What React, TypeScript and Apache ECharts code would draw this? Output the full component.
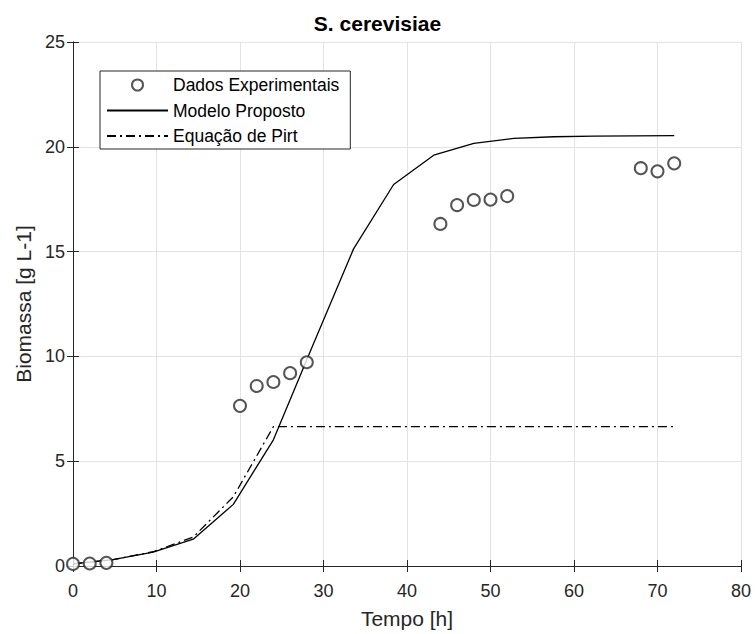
import React, { useEffect, useRef } from "react";
import * as echarts from "echarts";

// Experimental data (Dados Experimentais)
const expTime = [0, 2, 4, 20, 22, 24, 26, 28, 44, 46, 48, 50, 52, 68, 70, 72];
const expBiomass = [0.1, 0.12, 0.15, 7.64, 8.59, 8.78, 9.2, 9.72, 16.32, 17.22, 17.46, 17.48, 17.65, 18.98, 18.83, 19.21];

// Modelo Proposto
const modelTime = [0, 4.8, 9.6, 14.4, 19.2, 24, 28.8, 33.6, 38.4, 43.2, 48, 52.8, 57.6, 62.4, 67.2, 72];
const modelBiomass = [0.1, 0.3, 0.66, 1.28, 2.94, 6.02, 10.6, 15.13, 18.2, 19.6, 20.16, 20.4, 20.48, 20.51, 20.52, 20.53];

// Equação de Pirt
const pirtTime = [0, 4.8, 9.6, 14.4, 19.2, 24, 72];
const pirtBiomass = [0.1, 0.3, 0.68, 1.38, 3.3, 6.65, 6.65];

const xMin = 0;
const xMax = 80;
const xStep = 10;
const yMin = 0;
const yMax = 25;
const yStep = 5;

const seriesNames = ["Dados Experimentais", "Modelo Proposto", "Equação de Pirt"];
const titleText = "S. cerevisiae";
const xLabel = "Tempo [h]";
const yLabel = "Biomassa [g L-1]";

const FONT = "'Liberation Sans', Arial, sans-serif";
const DARK = "#262626";

const zip = (xs: number[], ys: number[]) => xs.map((x, i) => [x, ys[i]]);

export default function App() {
  const ref = useRef<HTMLDivElement>(null);

  useEffect(() => {
    if (!ref.current) return;
    const chart = echarts.init(ref.current, undefined, { renderer: "svg" });

    const boxAxisCommon = {
      axisLine: { show: true, lineStyle: { color: DARK, width: 1 } },
      axisTick: { show: true, inside: true, length: 6, lineStyle: { color: DARK, width: 1 } },
    };

    chart.setOption({
      animation: false,
      backgroundColor: "#ffffff",
      textStyle: { fontFamily: FONT },
      title: {
        text: titleText,
        left: "center",
        top: 13,
        padding: 0,
        textStyle: { fontFamily: FONT, fontSize: 21, fontWeight: "bold", color: "#000" },
      },
      grid: { left: 73, right: 14, top: 42, bottom: 65, containLabel: false },
      legend: {
        orient: "vertical",
        left: 100,
        top: 71,
        padding: [5, 11, 4, 6],
        itemWidth: 61,
        itemHeight: 11,
        itemGap: 7.5,
        backgroundColor: "#ffffff",
        borderColor: DARK,
        borderWidth: 1,
        borderRadius: 0,
        data: [
          { name: seriesNames[0] },
          { name: seriesNames[1], itemStyle: { opacity: 0 } },
          { name: seriesNames[2], itemStyle: { opacity: 0 } },
        ],
        textStyle: { fontFamily: FONT, fontSize: 17.5, color: "#000", padding: [0, 0, 0, 0] },
      },
      xAxis: [
        {
          type: "value",
          min: xMin,
          max: xMax,
          interval: xStep,
          position: "bottom",
          name: xLabel,
          nameLocation: "middle",
          nameGap: 42,
          nameTextStyle: { fontFamily: FONT, fontSize: 21, color: DARK },
          ...boxAxisCommon,
          axisLabel: { fontFamily: FONT, fontSize: 18, color: DARK, margin: 16 },
          splitLine: { show: true, lineStyle: { color: "#e3e3e3", width: 1 } },
        },
        {
          type: "value",
          min: xMin,
          max: xMax,
          interval: xStep,
          position: "top",
          ...boxAxisCommon,
          axisLabel: { show: false },
          splitLine: { show: false },
        },
      ],
      yAxis: [
        {
          type: "value",
          min: yMin,
          max: yMax,
          interval: yStep,
          position: "left",
          name: yLabel,
          nameLocation: "middle",
          nameGap: 38,
          nameTextStyle: { fontFamily: FONT, fontSize: 21, color: DARK },
          ...boxAxisCommon,
          axisLabel: { fontFamily: FONT, fontSize: 18, color: DARK, margin: 8 },
          splitLine: { show: true, lineStyle: { color: "#e3e3e3", width: 1 } },
        },
        {
          type: "value",
          min: yMin,
          max: yMax,
          interval: yStep,
          position: "right",
          ...boxAxisCommon,
          axisLabel: { show: false },
          splitLine: { show: false },
        },
      ],
      series: [
        {
          name: seriesNames[0],
          type: "scatter",
          xAxisIndex: 0,
          yAxisIndex: 0,
          symbol: "emptyCircle",
          symbolSize: 12,
          itemStyle: { color: "#2b2b2b", borderColor: "#2b2b2b", borderWidth: 1.2 },
          data: zip(expTime, expBiomass),
          z: 3,
        },
        {
          name: seriesNames[1],
          type: "line",
          xAxisIndex: 0,
          yAxisIndex: 0,
          showSymbol: false,
          symbol: "none",
          lineStyle: { color: "#000", width: 1.3, type: "solid" },
          itemStyle: { color: "#000" },
          data: zip(modelTime, modelBiomass),
          z: 2,
        },
        {
          name: seriesNames[2],
          type: "line",
          xAxisIndex: 0,
          yAxisIndex: 0,
          showSymbol: false,
          symbol: "none",
          lineStyle: { color: "#000", width: 1.3, type: [9, 4, 2, 4] },
          itemStyle: { color: "#000" },
          data: zip(pirtTime, pirtBiomass),
          z: 2,
        },
      ],
    });

    return () => {
      chart.dispose();
    };
  }, []);

  return (
    <div
      ref={ref}
      style={{ position: "absolute", left: 0, top: 0, width: 755, height: 634, background: "#fff" }}
    />
  );
}
